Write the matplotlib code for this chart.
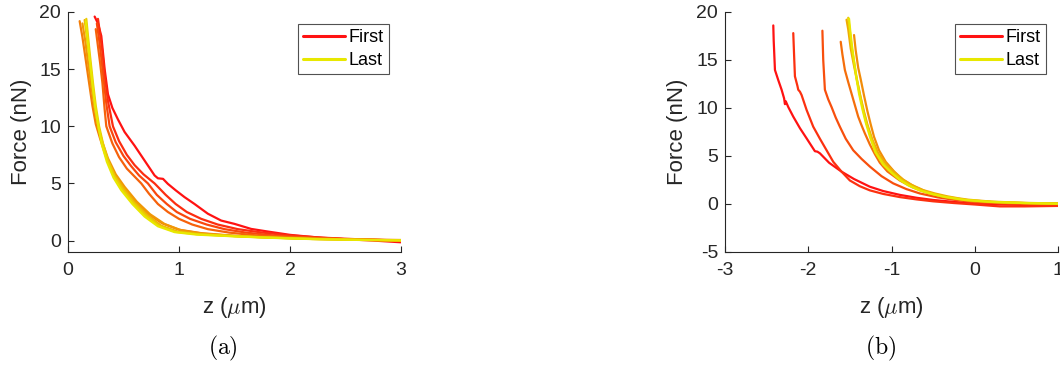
import matplotlib
matplotlib.use("Agg")
import matplotlib.pyplot as plt
import numpy as np

plt.rcParams['font.family'] = ['Liberation Sans', 'DejaVu Sans']
plt.rcParams['mathtext.fontset'] = 'cm'
plt.rcParams['axes.unicode_minus'] = False

# ---------------- Panel (a) data: z (um), Force (nN) ----------------
a_z = [
    [0.24, 0.27, 0.30, 0.33, 0.36, 0.40, 0.45, 0.51, 0.60, 0.69, 0.78, 0.81, 0.856, 0.90, 0.97, 1.05, 1.14, 1.26, 1.38, 1.50, 1.65, 1.80, 2.00, 2.25, 2.50, 2.75, 3.00],
    [0.27, 0.29, 0.31, 0.33, 0.36, 0.405, 0.46, 0.53, 0.60, 0.68, 0.78, 0.88, 0.97, 1.07, 1.20, 1.35, 1.53, 1.75, 2.00, 2.30, 2.60, 3.00],
    [0.26, 0.28, 0.30, 0.32, 0.345, 0.375, 0.43, 0.50, 0.57, 0.64, 0.72, 0.80, 0.89, 0.98, 1.10, 1.25, 1.41, 1.60, 1.85, 2.10, 2.50, 3.00],
    [0.25, 0.27, 0.29, 0.31, 0.33, 0.345, 0.40, 0.46, 0.53, 0.60, 0.66, 0.73, 0.81, 0.90, 1.00, 1.12, 1.26, 1.45, 1.70, 2.00, 2.50, 3.00],
    [0.105, 0.13, 0.16, 0.19, 0.22, 0.25, 0.29, 0.34, 0.41, 0.49, 0.60, 0.72, 0.85, 1.00, 1.20, 1.50, 1.80, 2.20, 2.60, 3.00],
    [0.13, 0.155, 0.18, 0.21, 0.24, 0.27, 0.31, 0.36, 0.43, 0.51, 0.62, 0.74, 0.87, 1.02, 1.22, 1.50, 1.80, 2.20, 2.60, 3.00],
    [0.15, 0.17, 0.195, 0.22, 0.245, 0.275, 0.31, 0.355, 0.42, 0.50, 0.60, 0.72, 0.84, 0.99, 1.20, 1.50, 1.80, 2.20, 2.60, 3.00],
    [0.165, 0.18, 0.20, 0.225, 0.25, 0.28, 0.315, 0.36, 0.42, 0.49, 0.59, 0.70, 0.82, 0.97, 1.18, 1.50, 1.80, 2.20, 2.60, 3.00],
    [0.16, 0.175, 0.195, 0.22, 0.245, 0.275, 0.305, 0.35, 0.41, 0.48, 0.58, 0.69, 0.81, 0.96, 1.16, 1.50, 1.80, 2.20, 2.60, 3.00],
]
a_f = [
    [19.6, 19.0, 17.9, 15.0, 12.8, 11.6, 10.6, 9.5, 8.3, 7.0, 5.7, 5.45, 5.4, 4.96, 4.4, 3.8, 3.2, 2.35, 1.75, 1.46, 1.02, 0.79, 0.5, 0.27, 0.12, 0.0, -0.15],
    [19.4, 18.0, 16.5, 14.5, 12.2, 10.0, 8.7, 7.5, 6.6, 5.8, 5.0, 4.0, 3.2, 2.5, 1.9, 1.4, 1.0, 0.7, 0.45, 0.25, 0.12, 0.0],
    [19.0, 17.6, 16.0, 14.2, 12.0, 10.0, 8.6, 7.4, 6.5, 5.7, 5.0, 4.0, 3.2, 2.5, 1.9, 1.4, 1.0, 0.7, 0.45, 0.3, 0.12, 0.0],
    [18.5, 17.0, 15.5, 13.8, 11.5, 10.0, 8.5, 7.3, 6.3, 5.6, 5.0, 4.1, 3.2, 2.5, 1.9, 1.4, 1.0, 0.7, 0.45, 0.3, 0.12, 0.0],
    [19.2, 17.8, 15.8, 13.8, 11.8, 10.2, 8.9, 7.4, 5.9, 4.75, 3.45, 2.35, 1.5, 0.95, 0.65, 0.42, 0.3, 0.18, 0.1, 0.05],
    [19.0, 17.5, 15.6, 13.5, 11.6, 10.0, 8.6, 7.2, 5.8, 4.7, 3.4, 2.3, 1.45, 0.9, 0.6, 0.4, 0.28, 0.15, 0.08, 0.03],
    [19.3, 17.8, 15.8, 13.6, 11.6, 9.9, 8.5, 7.1, 5.7, 4.6, 3.35, 2.2, 1.3, 0.78, 0.55, 0.4, 0.27, 0.14, 0.07, 0.02],
    [19.4, 17.9, 16.0, 13.8, 11.8, 10.0, 8.5, 7.0, 5.6, 4.5, 3.3, 2.2, 1.3, 0.76, 0.54, 0.38, 0.26, 0.14, 0.06, 0.01],
    [19.2, 17.7, 15.9, 13.7, 11.7, 9.9, 8.4, 6.9, 5.5, 4.4, 3.2, 2.1, 1.25, 0.74, 0.52, 0.37, 0.25, 0.13, 0.06, 0.02],
]

# ---------------- Panel (b) data: z (um), Force (nN) ----------------
b_z = [
    [-2.42, -2.415, -2.41, -2.40, -2.36, -2.32, -2.29, -2.28, -2.27, -2.24, -2.18, -2.10, -2.02, -1.95, -1.92, -1.89, -1.86, -1.75, -1.60, -1.45, -1.26, -1.10, -0.90, -0.70, -0.50, -0.25, 0.00, 0.30, 0.60, 1.00],
    [-2.18, -2.17, -2.16, -2.13, -2.12, -2.10, -2.08, -2.02, -1.94, -1.86, -1.78, -1.70, -1.60, -1.50, -1.38, -1.26, -1.10, -0.90, -0.70, -0.50, -0.25, 0.00, 0.30, 0.60, 1.00],
    [-1.83, -1.825, -1.82, -1.80, -1.76, -1.72, -1.67, -1.62, -1.55, -1.46, -1.36, -1.26, -1.12, -0.98, -0.82, -0.66, -0.45, -0.22, 0.00, 0.30, 0.60, 1.00],
    [-1.61, -1.59, -1.56, -1.52, -1.48, -1.44, -1.40, -1.36, -1.32, -1.26, -1.20, -1.14, -1.05, -0.90, -0.75, -0.55, -0.30, 0.00, 0.40, 1.00],
    [-1.45, -1.43, -1.40, -1.37, -1.33, -1.29, -1.25, -1.21, -1.15, -1.07, -0.97, -0.86, -0.72, -0.56, -0.38, -0.18, 0.00, 0.40, 1.00],
    [-1.54, -1.52, -1.49, -1.455, -1.415, -1.37, -1.33, -1.29, -1.23, -1.16, -1.06, -0.96, -0.86, -0.76, -0.62, -0.48, -0.33, -0.20, -0.08, 0.20, 0.60, 1.00],
    [-1.52, -1.50, -1.48, -1.45, -1.42, -1.38, -1.34, -1.30, -1.24, -1.18, -1.08, -0.98, -0.88, -0.78, -0.64, -0.50, -0.35, -0.22, -0.10, 0.20, 0.60, 1.00],
    [-1.51, -1.495, -1.475, -1.45, -1.425, -1.39, -1.35, -1.31, -1.255, -1.195, -1.10, -1.00, -0.90, -0.80, -0.66, -0.52, -0.37, -0.24, -0.12, 0.20, 0.60, 1.00],
]
b_f = [
    [18.6, 17.0, 16.0, 13.96, 12.9, 11.9, 11.0, 10.4, 10.7, 10.1, 9.1, 7.9, 6.84, 5.9, 5.5, 5.45, 5.28, 4.3, 3.37, 2.6, 1.8, 1.35, 0.95, 0.65, 0.42, 0.22, 0.05, -0.05, -0.1, -0.15],
    [17.8, 15.5, 13.3, 12.3, 11.9, 11.7, 11.35, 9.8, 8.05, 6.8, 5.6, 4.4, 3.37, 2.45, 1.85, 1.42, 1.05, 0.72, 0.48, 0.28, 0.1, -0.05, -0.25, -0.25, -0.2],
    [18.05, 16.5, 15.0, 11.9, 10.9, 10.1, 9.0, 8.05, 6.8, 5.6, 4.7, 3.9, 2.9, 2.15, 1.55, 1.1, 0.7, 0.4, 0.2, 0.08, 0.04, 0.0],
    [16.9, 15.6, 13.96, 12.7, 11.5, 10.3, 9.1, 8.2, 7.36, 6.2, 5.2, 4.3, 3.4, 2.45, 1.75, 1.1, 0.6, 0.28, 0.1, 0.05],
    [17.6, 16.0, 14.2, 13.0, 11.3, 9.7, 8.3, 7.0, 5.6, 4.4, 3.4, 2.5, 1.8, 1.2, 0.75, 0.47, 0.3, 0.12, 0.05],
    [19.2, 18.2, 16.2, 14.6, 12.9, 11.1, 9.6, 8.3, 6.7, 5.3, 4.1, 3.25, 2.55, 2.0, 1.45, 1.1, 0.8, 0.6, 0.45, 0.25, 0.12, 0.05],
    [19.4, 18.0, 16.4, 14.8, 13.2, 11.4, 9.8, 8.4, 6.8, 5.3, 4.0, 3.2, 2.5, 1.95, 1.4, 1.05, 0.75, 0.58, 0.42, 0.22, 0.1, 0.03],
    [19.3, 18.0, 16.5, 14.9, 13.3, 11.5, 9.9, 8.5, 6.9, 5.4, 4.1, 3.25, 2.5, 1.95, 1.4, 1.05, 0.75, 0.58, 0.42, 0.22, 0.1, 0.03],
]

legend_labels = ["First", "Last"]
xticks_a = [0, 1, 2, 3]
xticks_b = [-3, -2, -1, 0, 1]
yticks_a = [0, 5, 10, 15, 20]
yticks_b = [-5, 0, 5, 10, 15, 20]

red = np.array([1.0, 0.07, 0.07])
yellow = np.array([0.91, 0.91, 0.0])
axis_col = '#262626'

fig = plt.figure(figsize=(10.6, 3.66), dpi=100)
W, H = 1060, 366


def make_axes(left_px, right_px, top_px, bottom_px):
    return fig.add_axes([left_px / W, 1 - bottom_px / H,
                         (right_px - left_px) / W, (bottom_px - top_px) / H])


def style(ax, xlim, ylim, xt, yt):
    ax.set_xlim(*xlim)
    ax.set_ylim(*ylim)
    ax.set_xticks(xt)
    ax.set_yticks(yt)
    for s in ['top', 'right']:
        ax.spines[s].set_visible(False)
    for s in ['left', 'bottom']:
        ax.spines[s].set_color(axis_col)
        ax.spines[s].set_linewidth(0.8)
    ax.tick_params(direction='in', length=4, width=0.8, colors=axis_col,
                   labelsize=14, labelcolor=axis_col)
    ax.tick_params(axis='x', pad=7)
    ax.tick_params(axis='y', pad=5)


def draw(ax, zs, fs):
    n = len(zs)
    lines = []
    for i, (z, f) in enumerate(zip(zs, fs)):
        t = i / (n - 1)
        c = (1 - t) * red + t * yellow
        ln, = ax.plot(z, f, color=c, lw=1.6, solid_joinstyle='round',
                      solid_capstyle='round')
        lines.append(ln)
    leg = ax.legend([lines[0], lines[-1]], legend_labels, loc='upper right',
                    bbox_to_anchor=(0.964, 0.95), borderaxespad=0,
                    fontsize=13, frameon=True, fancybox=False,
                    handlelength=2.3, handletextpad=0.2, borderpad=0.3,
                    labelspacing=0.3)
    leg.get_frame().set_edgecolor(axis_col)
    leg.get_frame().set_linewidth(0.8)
    for l in leg.get_lines():
        l.set_linewidth(2.2)


ax1 = make_axes(68, 401, 12, 252)
style(ax1, (0, 3), (-1, 20), xticks_a, yticks_a)
draw(ax1, a_z, a_f)

ax2 = make_axes(725, 1058, 12, 252)
style(ax2, (-3, 1), (-5, 20), xticks_b, yticks_b)
draw(ax2, b_z, b_f)

for cx, ylx in [(234.5, 22), (891.5, 677)]:
    fig.text(cx / W, 1 - 308 / H, r'z ($\mu$m)', ha='center', va='center',
             fontsize=16, color=axis_col)
    fig.text(ylx / W, 1 - 132 / H, 'Force (nN)', ha='center', va='center',
             rotation=90, fontsize=16, color=axis_col)

fig.text(223 / W, 1 - 348 / H, r'$\mathrm{(a)}$', ha='center', va='center',
         fontsize=17, color='black')
fig.text(881 / W, 1 - 348 / H, r'$\mathrm{(b)}$', ha='center', va='center',
         fontsize=17, color='black')

fig.savefig('out.png', dpi=100)
